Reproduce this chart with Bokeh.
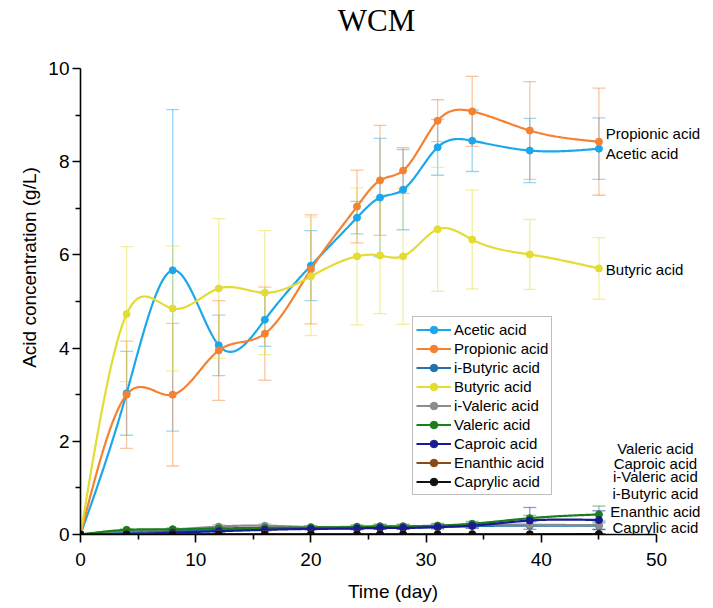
import numpy as np
from bokeh.plotting import figure
from bokeh.models import (ColumnDataSource, Range1d, FixedTicker, Whisker, TeeHead,
                          Legend, LegendItem)
from bokeh.core.properties import value
from bokeh.embed import file_html
from bokeh.resources import INLINE

# ---------------- data ----------------
days = [0, 4, 8, 12, 16, 20, 24, 26, 28, 31, 34, 39, 45]

acetic = [0, 3.03, 5.67, 4.06, 4.61, 5.77, 6.80, 7.23, 7.40, 8.31, 8.45, 8.24, 8.28]
acetic_err = [0, 0.90, 3.45, 0.65, 0.57, 0.75, 0.35, 1.27, 0.86, 0.60, 0.66, 0.69, 0.66]

propionic = [0, 3.00, 3.00, 3.95, 4.31, 5.69, 7.04, 7.60, 7.81, 8.88, 9.08, 8.67, 8.43]
propionic_err = [0, 1.15, 1.53, 1.07, 1.00, 1.17, 0.78, 1.18, 0.49, 0.45, 0.75, 1.05, 1.15]

ibutyric = [0, 0.05, 0.07, 0.10, 0.12, 0.13, 0.14, 0.15, 0.15, 0.16, 0.18, 0.19, 0.19]
ibutyric_err = [0, 0.01, 0.02, 0.02, 0.02, 0.02, 0.03, 0.03, 0.03, 0.03, 0.04, 0.08, 0.08]

butyric = [0, 4.73, 4.85, 5.28, 5.19, 5.54, 5.97, 5.99, 5.97, 6.55, 6.33, 6.01, 5.71]
butyric_err = [0, 1.45, 1.34, 1.50, 1.33, 1.27, 1.47, 1.25, 1.46, 1.33, 1.06, 0.75, 0.66]

ivaleric = [0, 0.08, 0.11, 0.17, 0.19, 0.16, 0.17, 0.18, 0.18, 0.19, 0.21, 0.21, 0.20]
ivaleric_err = [0, 0.02, 0.03, 0.04, 0.04, 0.03, 0.03, 0.03, 0.03, 0.04, 0.04, 0.10, 0.10]

valeric = [0, 0.10, 0.11, 0.13, 0.14, 0.15, 0.16, 0.17, 0.17, 0.19, 0.23, 0.35, 0.43]
valeric_err = [0, 0.02, 0.02, 0.03, 0.03, 0.03, 0.04, 0.05, 0.05, 0.05, 0.05, 0.06, 0.18]

caproic = [0, 0.01, 0.04, 0.07, 0.10, 0.12, 0.13, 0.14, 0.14, 0.16, 0.19, 0.30, 0.31]
caproic_err = [0, 0.00, 0.01, 0.02, 0.02, 0.02, 0.03, 0.03, 0.03, 0.04, 0.05, 0.28, 0.20]

enanthic = [0, 0.01, 0.01, 0.01, 0.01, 0.01, 0.01, 0.01, 0.01, 0.01, 0.01, 0.01, 0.01]
enanthic_err = [0, 0.01, 0.01, 0.01, 0.01, 0.01, 0.01, 0.01, 0.01, 0.01, 0.01, 0.01, 0.01]

caprylic = [0, 0, 0, 0, 0, 0, 0, 0, 0, 0, 0, 0, 0.01]
caprylic_err = [0, 0, 0, 0, 0, 0, 0, 0, 0, 0, 0, 0, 0]

names = ["Acetic acid", "Propionic acid", "i-Butyric acid", "Butyric acid",
         "i-Valeric acid", "Valeric acid", "Caproic acid", "Enanthic acid", "Caprylic acid"]
series = [acetic, propionic, ibutyric, butyric, ivaleric, valeric, caproic, enanthic, caprylic]
errors = [acetic_err, propionic_err, ibutyric_err, butyric_err, ivaleric_err,
          valeric_err, caproic_err, enanthic_err, caprylic_err]
colors = ["#1CA7EC", "#F58131", "#2471B0", "#E3DC33", "#8C8C8C",
          "#197F1B", "#1A1A96", "#8B4A14", "#111111"]

title_text = "WCM"
top_labels = ["Propionic acid", "Acetic acid", "Butyric acid"]
top_label_y = [8.60, 8.18, 5.69]
bottom_labels = ["Valeric acid", "Caproic acid", "i-Valeric acid",
                 "i-Butyric acid", "Enanthic acid", "Caprylic acid"]
bottom_label_y = [1.85, 1.52, 1.24, 0.88, 0.49, 0.15]


def natural_spline(x, y, n=400):
    x = np.asarray(x, float)
    y = np.asarray(y, float)
    m = len(x)
    h = np.diff(x)
    A = np.zeros((m, m))
    b = np.zeros(m)
    A[0, 0] = 1
    A[-1, -1] = 1
    for i in range(1, m - 1):
        A[i, i - 1] = h[i - 1]
        A[i, i] = 2 * (h[i - 1] + h[i])
        A[i, i + 1] = h[i]
        b[i] = 6 * ((y[i + 1] - y[i]) / h[i] - (y[i] - y[i - 1]) / h[i - 1])
    M = np.linalg.solve(A, b)
    xs = np.linspace(x[0], x[-1], n)
    idx = np.clip(np.searchsorted(x, xs) - 1, 0, m - 2)
    x0, x1 = x[idx], x[idx + 1]
    hh = x1 - x0
    t0 = x1 - xs
    t1 = xs - x0
    ys = (M[idx] * t0 ** 3 / (6 * hh) + M[idx + 1] * t1 ** 3 / (6 * hh)
          + (y[idx] / hh - M[idx] * hh / 6) * t0
          + (y[idx + 1] / hh - M[idx + 1] * hh / 6) * t1)
    return xs, ys


# ---------------- figure ----------------
W, H = 705, 604
p = figure(width=W, height=H, output_backend="svg", toolbar_location=None,
           x_range=Range1d(0, 54.25), y_range=Range1d(0, 11.46),
           min_border_left=80, min_border_right=0, min_border_top=0,
           min_border_bottom=66)
p.outline_line_color = None
p.xgrid.visible = False
p.ygrid.visible = False
p.background_fill_color = "white"
p.border_fill_color = "white"

for ax, bnds, ticks, minor, lab in [
        (p.xaxis[0], (0, 50), [0, 10, 20, 30, 40, 50], [5, 15, 25, 35, 45], "Time (day)"),
        (p.yaxis[0], (0, 10), [0, 2, 4, 6, 8, 10], [1, 3, 5, 7, 9], "Acid concentration (g/L)")]:
    ax.bounds = bnds
    ax.ticker = FixedTicker(ticks=ticks, minor_ticks=minor)
    ax.axis_line_width = 1.6
    ax.axis_line_color = "black"
    ax.major_tick_line_width = 1.6
    ax.minor_tick_line_width = 1.6
    ax.major_tick_out = 8
    ax.major_tick_in = 0
    ax.minor_tick_out = 5
    ax.minor_tick_in = 0
    ax.major_label_text_font = "Liberation Sans"
    ax.major_label_text_font_size = "19px"
    ax.major_label_text_color = "black"
    ax.axis_label = lab
    ax.axis_label_text_font = "Liberation Sans"
    ax.axis_label_text_font_size = "19px"
    ax.axis_label_text_font_style = "normal"
    ax.axis_label_text_color = "black"

p.xaxis[0].major_label_standoff = 10
p.xaxis[0].axis_label_standoff = 12
p.yaxis[0].major_label_standoff = 3
p.yaxis[0].axis_label_standoff = 5

items = []
for name, ys, es, col in zip(names, series, errors, colors):
    up = [y + e for y, e in zip(ys, es)]
    lo = [y - e for y, e in zip(ys, es)]
    src = ColumnDataSource(dict(x=days[1:], upper=up[1:], lower=lo[1:]))
    wk = Whisker(source=src, base="x", upper="upper", lower="lower",
                 line_color=col, line_alpha=0.45, line_width=1.3,
                 upper_head=TeeHead(size=13, line_color=col, line_alpha=0.45, line_width=1.3),
                 lower_head=TeeHead(size=13, line_color=col, line_alpha=0.45, line_width=1.3))
    p.add_layout(wk)

for name, ys, col in zip(names, series, colors):
    xs, ss = natural_spline(days, ys)
    ln = p.line(xs, ss, line_color=col, line_width=2.2)
    sc = p.scatter(days, ys, size=7, marker="circle", fill_color=col, line_color=col)
    items.append(LegendItem(label=name, renderers=[ln, sc]))

legend = Legend(items=items, location=(332, 39))
legend.label_text_font = "Liberation Sans"
legend.label_text_font_size = "15px"
legend.label_text_color = "black"
legend.glyph_width = 35
legend.glyph_height = 19
legend.label_height = 19
legend.spacing = 0
legend.padding = 3
legend.margin = 0
legend.label_standoff = 3
legend.border_line_color = "#7f7f7f"
legend.border_line_width = 1
legend.background_fill_color = "white"
legend.background_fill_alpha = 1
p.add_layout(legend, "center")

# title drawn as text in the (extended) plot area
p.text(x=[25.7], y=[11.03], text=[title_text],
       text_font=value("Liberation Serif"), text_font_size="31px",
       text_align="center", text_baseline="middle", text_color="black")

p.text(x=[45.6] * len(top_labels), y=top_label_y, text=top_labels,
       text_font=value("Liberation Sans"), text_font_size="15px",
       text_align="left", text_baseline="middle", text_color="black")
p.text(x=[49.9] * len(bottom_labels), y=bottom_label_y, text=bottom_labels,
       text_font=value("Liberation Sans"), text_font_size="15px",
       text_align="center", text_baseline="middle", text_color="black")

open("out.html", "w").write(file_html(p, INLINE))
